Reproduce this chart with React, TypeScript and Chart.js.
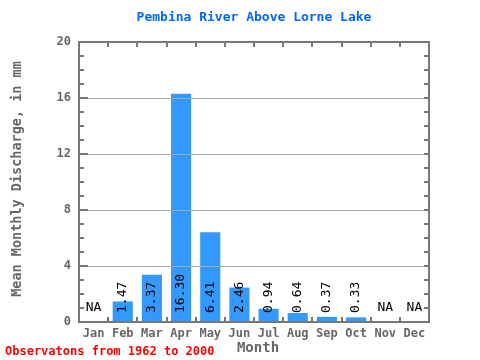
import React, { useEffect, useRef } from "react";
import { Chart, registerables } from "chart.js";

Chart.register(...registerables);

const titleText = "Pembina River Above Lorne Lake";
const yAxisLabel = "Mean Monthly Discharge, in mm";
const xAxisLabel = "Month";
const footerText = "Observatons from 1962 to 2000";
const months = ["Jan", "Feb", "Mar", "Apr", "May", "Jun", "Jul", "Aug", "Sep", "Oct", "Nov", "Dec"];
const discharge: (number | null)[] = [null, 1.47, 3.37, 16.3, 6.41, 2.46, 0.94, 0.64, 0.37, 0.33, null, null];
const valueLabels = ["NA", "1.47", "3.37", "16.30", "6.41", "2.46", "0.94", "0.64", "0.37", "0.33", "NA", "NA"];
const yMax = 20;
const yStep = 4;

const MONO = "'DejaVu Sans Mono', 'Liberation Mono', monospace";

const decoPlugin = {
  id: "deco",
  afterDatasetsDraw(chart: any) {
    const { ctx, chartArea: a, scales } = chart;
    const y = scales.y;
    ctx.save();
    // grid lines over bars
    ctx.strokeStyle = "#aaaaaa";
    ctx.lineWidth = 1;
    for (let v = yStep; v < yMax; v += yStep) {
      const py = Math.round(y.getPixelForValue(v)) + 0.5;
      ctx.beginPath();
      ctx.moveTo(a.left, py);
      ctx.lineTo(a.right, py);
      ctx.stroke();
    }
    // frame
    ctx.strokeStyle = "#777777";
    ctx.lineWidth = 2;
    ctx.strokeRect(a.left, a.top, a.right - a.left, a.bottom - a.top);
    // y ticks
    for (let v = 1; v < yMax; v++) {
      const py = Math.round(y.getPixelForValue(v));
      const len = v % yStep === 0 ? 9 : 5;
      ctx.beginPath();
      ctx.moveTo(a.left, py);
      ctx.lineTo(a.left + len, py);
      ctx.moveTo(a.right, py);
      ctx.lineTo(a.right - 5, py);
      ctx.stroke();
    }
    // x ticks at category boundaries
    const n = months.length;
    const w = (a.right - a.left) / n;
    for (let i = 1; i < n; i++) {
      const px = Math.round(a.left + i * w);
      ctx.beginPath();
      ctx.moveTo(px, a.top);
      ctx.lineTo(px, a.top + 5);
      ctx.moveTo(px, a.bottom);
      ctx.lineTo(px, a.bottom - 5);
      ctx.stroke();
    }
    // value labels
    ctx.fillStyle = "#000000";
    ctx.font = `13px ${MONO}`;
    const y0 = y.getPixelForValue(0);
    for (let i = 0; i < n; i++) {
      const cx = scales.x.getPixelForValue(i);
      if (discharge[i] === null) {
        ctx.textAlign = "center";
        ctx.textBaseline = "middle";
        ctx.fillText(valueLabels[i], cx, y0 - 14);
      } else {
        ctx.save();
        ctx.translate(cx, y0 - 9);
        ctx.rotate(-Math.PI / 2);
        ctx.textAlign = "left";
        ctx.textBaseline = "middle";
        ctx.fillText(valueLabels[i], 0, 0);
        ctx.restore();
      }
    }
    // title
    const midX = (a.left + a.right) / 2;
    ctx.fillStyle = "#0066ff";
    ctx.font = `bold 13px ${MONO}`;
    ctx.textAlign = "center";
    ctx.textBaseline = "middle";
    ctx.fillText(titleText, midX, 18);
    // x axis label
    ctx.fillStyle = "#666666";
    ctx.font = `bold 14px ${MONO}`;
    ctx.fillText(xAxisLabel, midX + 4, 348);
    // y axis label
    ctx.save();
    ctx.translate(17, (a.top + a.bottom) / 2 - 3);
    ctx.rotate(-Math.PI / 2);
    ctx.font = `bold 13.5px ${MONO}`;
    ctx.fillText(yAxisLabel, 0, 0);
    ctx.restore();
    // footer
    ctx.fillStyle = "#ff0000";
    ctx.font = `bold 12px ${MONO}`;
    ctx.textAlign = "left";
    ctx.fillText(footerText, 5, 352);
    ctx.restore();
  },
};

export default function App() {
  const ref = useRef<HTMLCanvasElement>(null);
  useEffect(() => {
    if (!ref.current) return;
    const chart = new Chart(ref.current, {
      type: "bar",
      data: {
        labels: months,
        datasets: [
          {
            data: discharge as any,
            backgroundColor: "#3399ff",
            borderWidth: 0,
            barPercentage: 0.69,
            categoryPercentage: 1,
          },
        ],
      },
      options: {
        responsive: false,
        animation: false,
        layout: { padding: { top: 42, right: 51, bottom: 0, left: 0 } },
        plugins: { legend: { display: false }, tooltip: { enabled: false }, title: { display: false } },
        scales: {
          x: {
            grid: { display: false, drawTicks: false },
            border: { display: false },
            ticks: {
              color: "#666666",
              font: { family: MONO, size: 12, weight: "bold" },
              padding: 5,
              maxRotation: 0,
              autoSkip: false,
            },
            afterFit: (s: any) => {
              s.height = 38;
            },
          },
          y: {
            min: 0,
            max: yMax,
            grid: { display: false, drawTicks: false },
            border: { display: false },
            ticks: {
              stepSize: yStep,
              color: "#666666",
              font: { family: MONO, size: 12, weight: "bold" },
              padding: 8,
            },
            afterFit: (s: any) => {
              s.width = 79;
            },
          },
        },
      },
      plugins: [decoPlugin],
    });
    return () => chart.destroy();
  }, []);
  return (
    <div style={{ position: "fixed", left: 0, top: 0, width: 480, height: 360, background: "#ffffff" }}>
      <canvas ref={ref} width={480} height={360} style={{ display: "block" }} />
    </div>
  );
}
